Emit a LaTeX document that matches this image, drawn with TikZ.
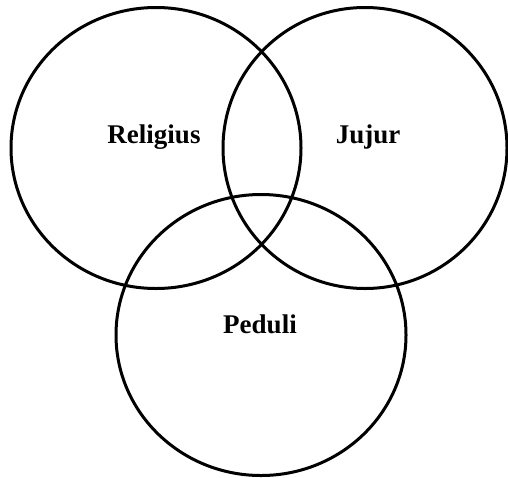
\documentclass[tikz,border=0pt]{standalone}
\usepackage{fontspec}
\setmainfont{Liberation Serif}
\usetikzlibrary{shapes.geometric}

\begin{document}
\begin{tikzpicture}[
  x=1pt, y=-1pt,
  ring/.style={ellipse,draw=black,line width=3pt,inner sep=0pt,
               minimum width=290pt,minimum height=281pt},
  lbl/.style={font=\fontsize{27}{32}\selectfont\bfseries}]
\useasboundingbox (0,0) rectangle (508,477);

% ---------------- the three circles ----------------
\node[ring] (religius) at (156,148) {};
\node[ring,minimum width=284pt] (jujur) at (365,148) {};
\node[ring] (peduli) at (261,335) {};

% ---------------- labels ----------------
\node[lbl] (tReligius) at (154,137) {Religius};
\node[lbl] (tJujur)    at (368,137) {Jujur};
\node[lbl] (tPeduli)   at (260,324) {Peduli};
\end{tikzpicture}
\end{document}
